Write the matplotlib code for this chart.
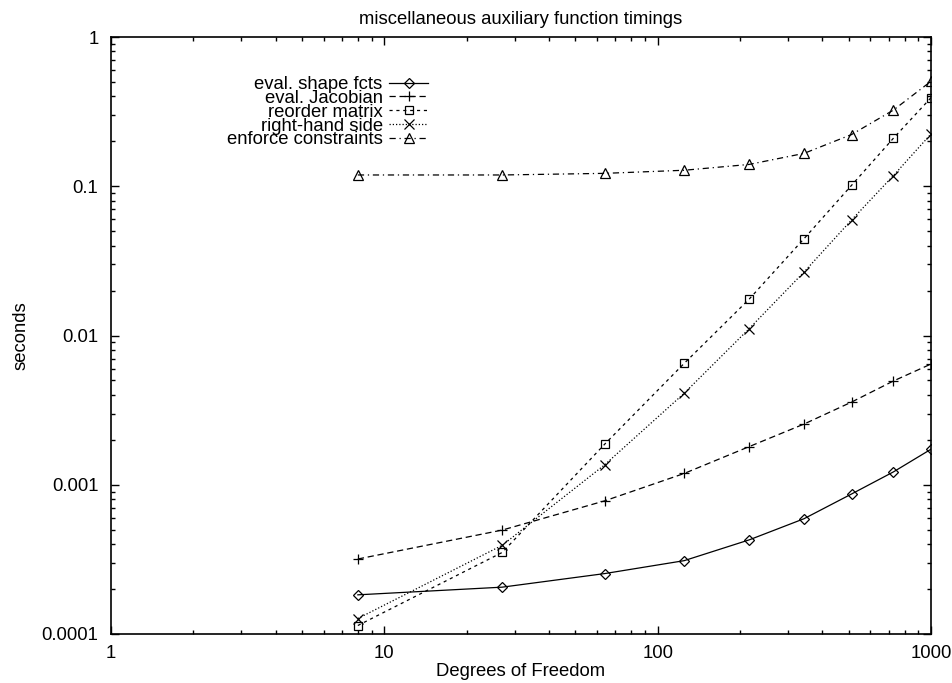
import matplotlib
matplotlib.use("Agg")
import matplotlib.pyplot as plt
from matplotlib.ticker import FixedLocator, FixedFormatter, LogLocator, NullFormatter

plt.rcParams['font.family'] = ['Liberation Sans', 'DejaVu Sans']

# Degrees of freedom (cubes of 2..10)
dofs = [8, 27, 64, 125, 216, 343, 512, 729, 1000]

# Timings in seconds
shape_fcts = [0.000183, 0.000206, 0.000254, 0.00031, 0.000427, 0.000592, 0.000867, 0.00122, 0.00173]
jacobian = [0.000318, 0.000497, 0.00078, 0.00119, 0.0018, 0.00255, 0.00358, 0.00496, 0.00644]
reorder_matrix = [0.000114, 0.000352, 0.00187, 0.0065, 0.0175, 0.0445, 0.1014, 0.21, 0.392]
rhs = [0.000127, 0.000393, 0.00136, 0.0041, 0.0111, 0.0266, 0.0594, 0.118, 0.224]
constraints = [0.119, 0.119, 0.122, 0.128, 0.140, 0.166, 0.222, 0.324, 0.505]

series_labels = ["eval. shape fcts", "eval. Jacobian", "reorder matrix",
                 "right-hand side", "enforce constraints"]

x_ticks = [1, 10, 100, 1000]
x_tick_labels = ["1", "10", "100", "1000"]
y_ticks = [0.0001, 0.001, 0.01, 0.1, 1]
y_tick_labels = ["0.0001", "0.001", "0.01", "0.1", "1"]

FS = 13.3

fig = plt.figure(figsize=(9.53, 6.83), dpi=100)
ax = fig.add_axes([111 / 953, 1 - 634 / 683, 820 / 953, 597 / 683])

lw = 0.9
styles = [
    dict(linestyle='-', marker='D', markersize=4.8),
    dict(linestyle=(0, (5, 3)), marker='+', markersize=7.5),
    dict(linestyle=(0, (2.5, 3)), marker='s', markersize=6),
    dict(linestyle=(0, (1, 1.6)), marker='x', markersize=6.5),
    dict(linestyle=(0, (5, 3, 1, 3)), marker='^', markersize=6.5),
]
data = [shape_fcts, jacobian, reorder_matrix, rhs, constraints]

for vals, lab, st in zip(data, series_labels, styles):
    ax.plot(dofs, vals, color='black', linewidth=lw, markerfacecolor='none',
            markeredgecolor='black', markeredgewidth=0.9, label=lab, **st)

ax.set_xscale('log')
ax.set_yscale('log')
ax.set_xlim(1, 1000)
ax.set_ylim(0.0001, 1)

ax.xaxis.set_major_locator(FixedLocator(x_ticks))
ax.xaxis.set_major_formatter(FixedFormatter(x_tick_labels))
ax.yaxis.set_major_locator(FixedLocator(y_ticks))
ax.yaxis.set_major_formatter(FixedFormatter(y_tick_labels))
ax.xaxis.set_minor_locator(LogLocator(base=10, subs=range(2, 10)))
ax.yaxis.set_minor_locator(LogLocator(base=10, subs=range(2, 10)))
ax.xaxis.set_minor_formatter(NullFormatter())
ax.yaxis.set_minor_formatter(NullFormatter())

ax.tick_params(which='both', direction='in', top=True, right=True, width=1.0,
               labelsize=FS, color='black')
ax.tick_params(which='major', length=6)
ax.tick_params(which='minor', length=3)
ax.tick_params(axis='y', which='major', pad=9)
ax.tick_params(axis='x', which='major', pad=8)
for sp in ax.spines.values():
    sp.set_linewidth(1.2)

ax.set_title("miscellaneous auxiliary function timings", fontsize=FS, pad=9)
ax.set_xlabel("Degrees of Freedom", fontsize=FS, labelpad=1)
ax.set_ylabel("seconds", fontsize=FS, labelpad=9)

leg = ax.legend(loc='upper right', bbox_to_anchor=((428 - 111) / 820, (634 - 76) / 597),
                frameon=False, markerfirst=False, fontsize=FS, labelspacing=-0.17,
                handlelength=2.1, handletextpad=0.35, borderpad=0, borderaxespad=0)
for t in leg.get_texts():
    t.set_ha('right')
leg._legend_box.align = 'right'

fig.savefig("out.png", dpi=100)
